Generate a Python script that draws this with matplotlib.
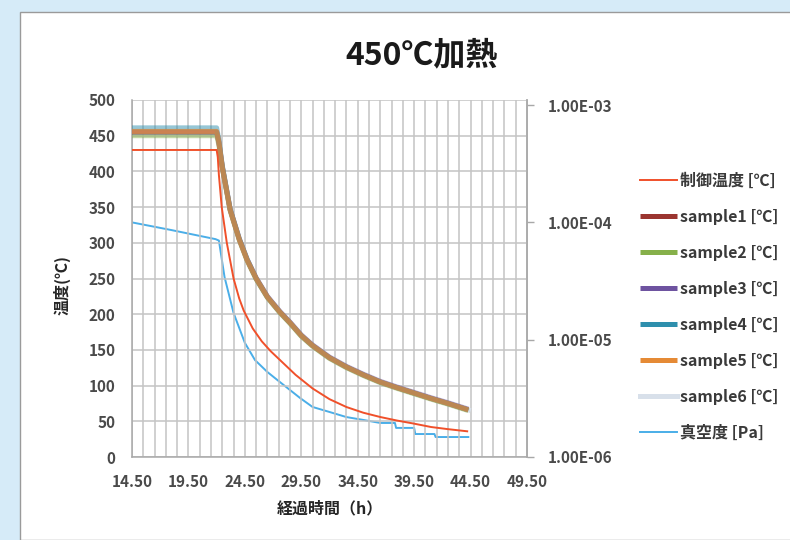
import matplotlib
matplotlib.use("Agg")
import matplotlib.pyplot as plt
from matplotlib.patches import Rectangle
from matplotlib.ticker import FixedLocator, FuncFormatter, NullLocator

plt.rcParams['font.family'] = ['Noto Sans CJK JP', 'DejaVu Sans']

# ---------------- data ----------------
title = "450℃加熱"
x_label = "経過時間（h）"
y_label = "温度(℃)"
x_ticks = [14.5, 19.5, 24.5, 29.5, 34.5, 39.5, 44.5, 49.5]
y_ticks = [0, 50, 100, 150, 200, 250, 300, 350, 400, 450, 500]
y2_ticks = [1e-6, 1e-5, 1e-4, 1e-3]

t_ctrl = [14.5, 22.0, 22.1, 22.2, 22.45, 22.9, 23.5, 24.0, 24.4, 25.2, 26.0, 26.8, 27.6,
          29.0, 30.5, 32.0, 33.5, 35.0, 36.5, 38.0, 39.4, 41.0, 42.5, 44.2]
ctrl = [430, 430, 420, 395, 350, 300, 250, 222, 205, 180, 162, 148, 136,
        115, 96, 81, 70, 62, 56, 51, 47, 42, 39, 36]

t_samp = [14.5, 22.0, 22.2, 22.5, 23.2, 24.0, 24.7, 25.5, 26.5, 27.6, 28.5, 29.5,
          30.5, 32.0, 33.5, 35.0, 36.5, 38.0, 39.4, 41.0, 42.5, 44.3]
sample1 = [455, 455, 440, 406, 346, 305, 276, 250, 224, 203, 188, 170,
           156, 139, 126, 115, 105, 97, 90, 82, 75, 66]
sample2 = [450, 450, 437, 405, 345, 304, 275, 249, 223, 202, 187, 169,
           155, 138, 125, 114, 104, 96, 89, 81, 74, 65]
sample3 = [455, 455, 441, 407, 347, 306, 277, 251, 225, 204, 189, 171,
           157, 140, 127, 116, 106, 98, 91, 83, 76, 67]
sample4 = [461, 461, 444, 408, 347, 306, 277, 250, 224, 203, 188, 170,
           156, 139, 126, 115, 105, 97, 90, 82, 75, 66]
sample5 = [456, 456, 441, 406, 346, 305, 276, 250, 224, 203, 188, 170,
           156, 139, 126, 115, 105, 97, 90, 82, 75, 66]
sample6 = [455, 455, 440, 406, 346, 305, 276, 250, 224, 203, 188, 170,
           156, 139, 126, 115, 105, 97, 90, 82, 75, 66]

t_vac = [14.5, 18.0, 21.9, 22.2, 22.7, 23.5, 24.5, 25.4, 26.5, 27.6, 29.4, 30.5,
         32.0, 33.5, 35.0, 36.5, 37.8, 37.9, 39.5, 39.6, 41.3, 41.4, 44.3]
vac = [1.0e-4, 8.6e-5, 7.2e-5, 7.0e-5, 3.42e-5, 1.69e-5, 9.4e-6, 6.7e-6, 5.3e-6, 4.36e-6,
       3.18e-6, 2.67e-6, 2.42e-6, 2.19e-6, 2.07e-6, 1.95e-6, 1.95e-6, 1.77e-6, 1.77e-6,
       1.57e-6, 1.57e-6, 1.48e-6, 1.48e-6]

labels = ["制御温度 [℃]", "sample1 [℃]", "sample2 [℃]", "sample3 [℃]",
          "sample4 [℃]", "sample5 [℃]", "sample6 [℃]", "真空度 [Pa]"]
colors = ["#f0502a", "#9b3530", "#86b04a", "#6e53a0", "#2e8fad", "#e58a35",
          "#d8e0ea", "#4aaee8"]
sample_alpha = [0.5, 0.5, 0.5, 0.5, 0.7]

# ---------------- figure ----------------
W, H = 790, 540
fig = plt.figure(figsize=(W / 100, H / 100), dpi=100)
fig.patch.set_facecolor("#d6ebf8")
fig.patches.append(Rectangle((20 / W, 0), 1, 1 - 12 / H, transform=fig.transFigure,
                             facecolor="white", edgecolor="#9a9a9a", lw=1.0, zorder=-5))

ax = fig.add_axes([132 / W, 1 - 457 / H, (527 - 132) / W, (457 - 100) / H])
ax.set_facecolor("none")
ax.set_xlim(14.5, 49.5)
ax.set_ylim(0, 500)
ax.xaxis.set_major_locator(FixedLocator(x_ticks))
ax.xaxis.set_major_formatter(FuncFormatter(lambda v, p: f"{v:.2f}"))
ax.yaxis.set_major_locator(FixedLocator(y_ticks))
grid_x = [14.5 + i for i in range(36)]
for gx in grid_x:
    ax.axvline(gx, color="#c4c4c4", lw=1.1, zorder=0)
for gy in y_ticks:
    ax.axhline(gy, color="#c4c4c4", lw=1.1, zorder=0)
for s in ax.spines.values():
    s.set_color("#a8a8a8")
    s.set_linewidth(1.1)
ax.spines['top'].set_visible(False)
tick_color = "#4a4a4a"
ax.tick_params(axis='both', length=0, labelsize=11, colors=tick_color)
ax.tick_params(axis='x', pad=12)
ax.tick_params(axis='y', pad=12)
for lab in ax.get_xticklabels() + ax.get_yticklabels():
    lab.set_fontweight('bold')

lines = []
l0, = ax.plot(t_ctrl, ctrl, color=colors[0], lw=1.4, zorder=5)
lines.append(l0)
l6, = ax.plot(t_samp, sample6, color=colors[6], lw=3.6, zorder=2)
samples = [sample1, sample2, sample3, sample4, sample5]
slines = []
for i, s in enumerate(samples):
    ln, = ax.plot(t_samp, s, color=colors[i + 1], lw=3.6, alpha=sample_alpha[i],
                  zorder=3 + i * 0.1, solid_capstyle='butt')
    slines.append(ln)
lines += slines + [l6]

ax2 = ax.twinx()
ax2.set_yscale('log')
ax2.set_ylim(1e-6, 10 ** (-6 + 357 / 117.3))
ax2.yaxis.set_major_locator(FixedLocator(y2_ticks))
ax2.yaxis.set_minor_locator(NullLocator())
ax2.yaxis.set_major_formatter(FuncFormatter(lambda v, p: f"{v:.2E}"))
for s in ax2.spines.values():
    s.set_visible(False)
ax2.spines['right'].set_visible(True)
ax2.spines['right'].set_color("#a8a8a8")
ax2.spines['right'].set_linewidth(1.1)
ax2.tick_params(axis='y', length=5, width=1, colors="#a8a8a8", labelcolor=tick_color,
                labelsize=11, pad=10, direction='out')
for lab in ax2.get_yticklabels():
    lab.set_fontweight('bold')
lv, = ax2.plot(t_vac, vac, color=colors[7], lw=1.4, zorder=5)
lines.append(lv)

ax.set_zorder(ax2.get_zorder() + 1)

fig.text(422 / W, 1 - 55 / H, title, ha='center', va='center', fontsize=23,
         fontweight='bold', color="#1a1a1a")
fig.text(330 / W, 1 - 508 / H, x_label, ha='center', va='center', fontsize=11.5,
         fontweight='bold', color="#262626")
fig.text(62 / W, 1 - 285 / H, y_label, ha='center', va='center', fontsize=11.5,
         fontweight='bold', color="#262626", rotation=90)

leg = fig.legend(lines, labels, loc='upper left', bbox_to_anchor=(626 / W, 1 - 158 / H),
                 frameon=False, fontsize=11.5, handlelength=2.3, handletextpad=0.2,
                 labelspacing=1.25, labelcolor="#3a3a3a")
for h in leg.legend_handles:
    h.set_alpha(1.0)
for t in leg.get_texts():
    t.set_fontweight('bold')

fig.savefig("out.png", dpi=100, facecolor=fig.get_facecolor())
